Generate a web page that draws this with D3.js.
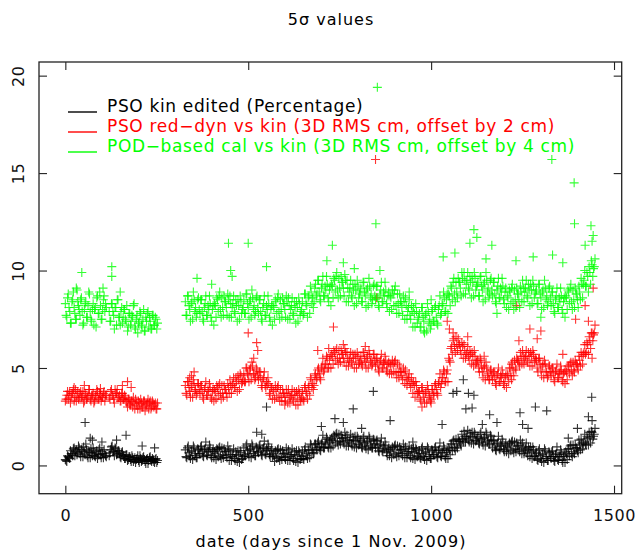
<!DOCTYPE html>
<html>
<head>
<meta charset="utf-8">
<script src="https://cdn.jsdelivr.net/npm/d3@7"></script>
<style>
  body { margin: 0; background: #fff; }
  text { font-family: "DejaVu Sans", sans-serif; }
</style>
</head>
<body>
<div id="chart"></div>
<script>
// ---- data (two interleaved 4-day samplings) ----
const daysA  = d3.range(0, 253, 4).filter(d => d !== 116);          // first campaign
const daysA2 = d3.range(2, 251, 4).filter(d => d !== 114 && d !== 118);
const daysB  = d3.range(328, 1449, 4);                               // second campaign
const daysB2 = d3.range(330, 1447, 4);

const xTicks = [0, 500, 1000, 1500];
const yTicks = [0, 5, 10, 15, 20];

const legendLabels = [
  "PSO kin edited (Percentage)",
  "PSO red\u2212dyn vs kin (3D RMS cm, offset by 2 cm)",
  "POD\u2212based cal vs kin (3D RMS cm, offset by 4 cm)"
];

// black: PSO kin edited
const kinA = [0.3,0.2,0.45,0.35,0.6,0.5,0.9,0.7,0.55,1.0,0.6,0.8,0.45,0.7,1.1,0.5,0.75,0.4,0.65,0.9,0.5,0.6,0.35,0.8,0.55,0.7,0.4,0.6,0.45,
  0.5,0.8,1.0,0.7,0.9,0.55,0.75,0.6,0.4,0.7,0.5,0.35,0.55,0.3,0.45,0.2,0.4,0.3,0.15,0.35,0.25,0.5,0.2,0.4,0.3,0.1,0.35,0.25,0.45,0.2,0.3,0.15,0.35,0.25];
const kinA2 = [0.25,0.5,0.4,0.75,0.6,0.85,0.5,0.8,0.65,0.9,0.45,0.7,0.95,0.55,0.8,0.4,0.65,0.85,0.5,0.7,0.45,0.75,0.55,0.9,0.4,0.6,0.8,0.5,
  0.65,0.95,0.7,0.5,0.85,0.6,0.75,0.45,0.65,0.5,0.35,0.55,0.25,0.45,0.3,0.5,0.2,0.4,0.3,0.5,0.15,0.35,0.25,0.45,0.2,0.3,0.1,0.4,0.25,0.35,0.2,0.3,0.15];
const kinB = [
  0.8,0.4,1.0,0.5,0.7,0.3,0.9,0.6,0.4,0.8,
  0.6,1.0,0.5,0.8,1.2,0.5,0.7,0.9,0.4,0.8,
  0.7,0.3,0.8,0.9,0.5,0.9,0.4,0.7,0.5,1.0,
  0.25,0.55,0.45,0.85,0.25,0.55,0.75,0.15,0.65,0.35,
  0.9,0.5,1.1,0.6,0.8,0.4,1.0,0.7,0.5,0.9,
  0.65,1.05,0.55,0.85,1.25,0.55,0.75,0.95,0.45,0.85,
  0.6,0.2,0.7,0.8,0.4,0.8,0.3,0.6,0.4,0.9,
  0.25,0.55,0.45,0.85,0.25,0.55,0.75,0.15,0.65,0.35,
  0.7,0.3,0.95,0.5,0.75,0.4,1.05,0.8,0.65,1.1,
  0.8,1.25,0.8,1.1,1.55,0.9,1.1,1.35,0.9,1.3,
  1.4,1.0,1.5,1.6,1.2,1.6,1.1,1.4,1.2,1.7,
  1.0,1.3,1.2,1.6,1.0,1.3,1.5,0.9,1.4,1.1,
  1.3,0.9,1.5,1.0,1.2,0.8,1.4,1.1,0.9,1.3,
  0.9,1.3,0.75,1.05,1.4,0.7,0.85,1.05,0.5,0.9,
  0.8,0.4,0.9,1.0,0.6,1.0,0.5,0.8,0.6,1.1,
  0.4,0.7,0.6,1.0,0.4,0.7,0.9,0.3,0.8,0.5,
  0.75,0.35,0.95,0.45,0.65,0.25,0.85,0.55,0.35,0.75,
  0.55,0.95,0.45,0.75,1.15,0.45,0.65,0.85,0.35,0.75,
  0.9,0.55,1.1,1.25,0.9,1.35,0.9,1.25,1.1,1.6,
  1.2,1.5,1.4,1.8,1.2,1.5,1.7,1.1,1.6,1.3,
  1.5,1.1,1.7,1.2,1.4,1.0,1.6,1.3,1.1,1.5,
  0.9,1.3,0.8,1.1,1.5,0.8,1.0,1.2,0.7,1.1,
  1.0,0.6,1.1,1.2,0.8,1.2,0.7,1.0,0.8,1.3,
  0.6,0.9,0.75,1.15,0.5,0.8,0.95,0.35,0.8,0.5,
  0.65,0.25,0.85,0.35,0.55,0.15,0.75,0.45,0.25,0.65,
  0.35,0.75,0.25,0.55,0.95,0.25,0.45,0.65,0.15,0.55,
  0.7,0.3,0.85,1.0,0.6,1.05,0.6,0.9,0.75,1.3,
  0.8,1.15,1.1,1.6,1.05,1.4,1.7,1.15,1.7,1.5,
  1.9];
const kinB2 = [
  0.45,0.9,0.65,0.35,0.75,1.0,0.5,0.4,0.85,0.6,
  0.95,0.7,0.45,0.85,0.55,0.8,1.05,0.5,0.7,0.4,
  0.6,0.85,0.45,0.95,0.35,0.55,0.85,0.7,0.4,0.75,
  0.8,0.25,0.55,0.35,0.7,0.2,0.5,0.75,0.3,0.45,
  0.55,1.0,0.75,0.45,0.85,1.1,0.6,0.5,0.95,0.7,
  1.0,0.75,0.5,0.9,0.6,0.85,1.1,0.55,0.75,0.45,
  0.5,0.75,0.35,0.85,0.25,0.45,0.75,0.6,0.3,0.65,
  0.8,0.25,0.55,0.35,0.7,0.2,0.5,0.75,0.3,0.45,
  0.35,0.8,0.6,0.35,0.8,1.1,0.65,0.6,1.1,0.9,
  1.15,0.95,0.75,1.15,0.9,1.2,1.45,0.95,1.2,0.9,
  1.3,1.55,1.15,1.65,1.05,1.25,1.55,1.4,1.1,1.45,
  1.55,1.0,1.3,1.1,1.45,0.95,1.25,1.5,1.05,1.2,
  0.95,1.4,1.15,0.85,1.25,1.5,1.0,0.9,1.35,1.1,
  1.25,1.0,0.7,1.1,0.75,1.0,1.2,0.65,0.8,0.5,
  0.7,0.95,0.55,1.05,0.45,0.65,0.95,0.8,0.5,0.85,
  0.95,0.4,0.7,0.5,0.85,0.35,0.65,0.9,0.45,0.6,
  0.4,0.85,0.6,0.3,0.7,0.95,0.45,0.35,0.8,0.55,
  0.9,0.65,0.4,0.8,0.5,0.75,1.0,0.45,0.65,0.35,
  0.8,1.1,0.75,1.3,0.75,1.0,1.35,1.25,1.0,1.35,
  1.75,1.2,1.5,1.3,1.65,1.15,1.45,1.7,1.25,1.4,
  1.15,1.6,1.35,1.05,1.45,1.7,1.2,1.1,1.55,1.3,
  1.25,1.0,0.75,1.15,0.85,1.1,1.35,0.8,1.0,0.7,
  0.9,1.15,0.75,1.25,0.65,0.85,1.15,1.0,0.7,1.05,
  1.15,0.6,0.85,0.65,0.95,0.45,0.7,0.95,0.45,0.6,
  0.3,0.75,0.5,0.2,0.6,0.85,0.35,0.25,0.7,0.45,
  0.7,0.45,0.2,0.6,0.3,0.55,0.8,0.25,0.45,0.15,
  0.6,0.85,0.5,1.05,0.45,0.7,1.05,0.9,0.65,1.05,
  1.35,0.85,1.2,1.1,1.5,1.05,1.45,1.75,1.35,1.6];
const kinOut = [[54,2.2],[68,1.4],[74,1.3],[166,1.55],[100,1.2],[140,1.3],[210,1.0],[244,0.9],
  [523,1.7],[550,3.0],[537,1.6],[737,2.4],[787,2.9],[842,3.8],[888,2.3],[1088,4.4],[1060,3.7],
  [1070,3.8],[1102,3.7],[1117,3.6],[1095,2.9],[1112,2.95],[1160,2.6],[1243,2.7],[1285,3.0],
  [1316,2.8],[1439,3.5],[1250,2.1],[1265,1.9],[1180,2.2],[1140,2.1],[1030,2.1],[950,1.2],
  [700,2.0],[760,2.2],[810,1.9],[1430,2.5],[1440,2.3],[1400,1.9],[1375,1.4]];

// red: PSO red-dyn vs kin (+2 cm)
const redA = [3.3,3.6,3.4,3.8,3.5,3.7,3.3,3.9,3.6,3.4,3.7,3.5,3.8,3.3,3.6,3.5,3.9,3.4,3.6,3.7,3.3,3.5,3.8,3.4,3.6,3.5,3.7,3.3,3.6,
  3.5,3.8,3.6,3.4,3.9,3.7,3.5,3.6,3.3,3.7,3.4,3.5,3.2,3.4,3.1,3.3,3.0,3.2,3.4,3.1,3.3,2.9,3.2,3.0,3.3,3.1,3.2,2.9,3.3,3.0,3.2,3.1,2.9,3.2];
const redA2 = [3.4,3.8,3.6,3.2,3.7,3.9,3.5,3.3,3.8,3.5,3.8,3.5,3.2,3.7,3.4,3.6,3.9,3.3,3.6,3.2,3.6,3.9,3.4,3.7,3.3,3.5,3.8,3.6,
  3.4,3.9,3.6,3.2,3.7,3.9,3.5,3.3,3.7,3.4,3.6,3.3,3.0,3.4,3.1,3.3,3.5,2.9,3.2,2.9,3.2,3.4,3.0,3.3,2.8,3.1,3.4,3.2,2.9,3.3,3.0,3.2,2.9];
const redB = [
  4.1,3.6,4.3,3.8,4.0,3.5,4.2,3.9,3.7,4.2,
  3.7,4.1,3.5,3.9,4.3,3.6,3.8,4.0,3.4,3.9,
  3.9,3.4,4.0,4.1,3.7,4.1,3.5,3.9,3.7,4.2,
  3.7,4.1,4.1,4.5,4.0,4.3,4.6,3.9,4.6,4.3,
  4.7,4.3,5.0,4.6,4.9,4.4,5.1,4.7,4.5,4.9,
  4.4,4.8,4.1,4.4,4.8,4.0,4.1,4.2,3.6,4.0,
  3.9,3.4,3.9,4.0,3.6,3.9,3.3,3.7,3.5,3.9,
  3.2,3.6,3.5,3.9,3.3,3.6,3.8,3.1,3.7,3.4,
  3.8,3.3,4.1,3.7,4.0,3.6,4.4,4.2,4.1,4.7,
  4.5,5.0,4.5,5.0,5.5,4.9,5.2,5.5,5.0,5.6,
  5.7,5.2,5.8,5.9,5.5,5.9,5.3,5.7,5.5,6.0,
  5.1,5.5,5.4,5.8,5.2,5.5,5.7,5.0,5.6,5.3,
  5.6,5.1,5.8,5.3,5.5,5.0,5.7,5.4,5.2,5.7,
  5.1,5.5,4.9,5.3,5.7,5.0,5.2,5.4,4.8,5.3,
  5.2,4.7,5.2,5.3,4.8,5.2,4.5,4.8,4.6,5.0,
  4.2,4.5,4.4,4.7,4.0,4.2,4.3,3.5,4.1,3.7,
  3.8,3.3,4.0,3.5,3.7,3.2,3.9,3.6,3.4,3.9,
  3.7,4.2,3.7,4.2,4.7,4.2,4.5,4.8,4.3,4.9,
  5.5,5.3,6.1,6.4,6.1,6.6,5.9,6.2,5.9,6.3,
  5.5,5.9,5.7,6.1,5.4,5.7,5.8,5.1,5.6,5.3,
  5.4,4.8,5.4,4.8,5.0,4.4,5.0,4.7,4.4,4.9,
  4.4,4.8,4.2,4.6,5.0,4.3,4.5,4.7,4.1,4.6,
  4.7,4.3,5.0,5.2,4.9,5.4,4.9,5.4,5.3,5.8,
  5.2,5.6,5.5,5.9,5.3,5.6,5.8,5.1,5.7,5.4,
  5.4,4.8,5.5,4.9,5.1,4.5,5.2,4.8,4.6,5.1,
  4.6,5.0,4.4,4.8,5.2,4.5,4.7,4.9,4.3,4.8,
  4.9,4.4,5.1,5.2,4.9,5.3,4.8,5.2,5.1,5.6,
  5.1,5.6,5.7,6.2,5.8,6.2,6.6,6.0,6.8,6.7,
  7.2];
const redB2 = [
  3.7,4.3,4.0,3.5,4.1,4.4,3.8,3.6,4.2,3.9,
  4.1,3.8,3.4,4.0,3.6,3.9,4.2,3.5,3.8,3.3,
  3.8,4.1,3.6,4.2,3.4,3.7,4.1,3.9,3.5,4.0,
  4.4,3.7,4.2,4.0,4.5,3.8,4.4,4.7,4.2,4.4,
  4.3,5.0,4.7,4.3,5.0,5.3,4.7,4.4,5.0,4.6,
  4.8,4.5,4.0,4.5,4.1,4.3,4.5,3.7,4.0,3.4,
  3.8,4.1,3.5,4.1,3.3,3.5,3.9,3.7,3.3,3.7,
  3.9,3.2,3.6,3.4,3.8,3.1,3.6,3.9,3.3,3.5,
  3.4,4.0,3.8,3.4,4.1,4.5,4.0,3.9,4.6,4.4,
  4.9,4.7,4.4,5.1,4.8,5.2,5.6,5.0,5.4,5.0,
  5.6,5.9,5.4,6.0,5.2,5.5,5.9,5.7,5.3,5.8,
  5.8,5.1,5.5,5.3,5.7,5.0,5.5,5.8,5.2,5.4,
  5.2,5.8,5.5,5.0,5.6,5.9,5.3,5.1,5.7,5.4,
  5.5,5.2,4.8,5.4,5.0,5.3,5.6,4.9,5.2,4.7,
  5.1,5.4,4.8,5.4,4.5,4.8,5.1,4.8,4.4,4.8,
  4.9,4.1,4.5,4.2,4.5,3.7,4.1,4.3,3.7,3.8,
  3.4,4.0,3.7,3.2,3.8,4.1,3.5,3.3,3.9,3.6,
  4.1,3.9,3.6,4.3,4.0,4.5,4.9,4.3,4.7,4.3,
  5.4,6.0,5.7,6.5,5.8,6.2,6.5,6.2,5.7,6.1,
  6.2,5.5,5.8,5.6,5.9,5.2,5.6,5.9,5.2,5.4,
  5.0,5.5,5.1,4.5,5.1,5.3,4.6,4.4,4.9,4.6,
  4.8,4.5,4.1,4.7,4.3,4.6,4.9,4.2,4.5,4.0,
  4.6,5.0,4.6,5.3,4.6,5.0,5.5,5.4,5.1,5.6,
  5.9,5.2,5.6,5.4,5.8,5.1,5.6,5.9,5.3,5.5,
  5.0,5.5,5.2,4.6,5.2,5.4,4.8,4.5,5.1,4.8,
  5.0,4.7,4.3,4.9,4.5,4.8,5.1,4.4,4.7,4.2,
  4.8,5.1,4.7,5.3,4.6,4.9,5.4,5.2,4.9,5.4,
  5.8,5.2,5.8,5.7,6.3,5.7,6.4,6.8,6.4,6.8];
const redOut = [[24,4.0],[52,4.1],[156,4.1],[170,4.3],[180,4.0],[96,3.95],
  [345,4.6],[352,4.8],[340,4.5],[500,6.8],[523,6.3],[526,5.9],[515,5.5],[733,7.1],[720,6.0],
  [851,8.6],[848,15.7],[1044,7.4],[1050,7.0],[1060,6.8],[1234,8.2],[1421,8.2],[1443,9.1],
  [1270,7.0],[1300,6.9],[1290,6.5],[1395,7.5],[1430,7.4],[690,5.9],[760,6.2],[820,6.1],
  [1100,6.6],[1360,5.7],[1145,5.6],[600,3.1],[975,3.0],[1000,3.2],[1240,6.4],[1220,4.4],[1440,5.5]];

// green: POD-based cal vs kin (+4 cm)
const podA = [8.3,7.6,8.8,7.9,7.3,8.5,8.1,7.5,9.0,8.2,7.7,8.6,7.2,8.0,8.4,7.6,8.9,7.9,7.4,8.3,8.0,7.1,8.7,7.8,8.2,7.5,8.5,7.9,8.1,
  7.9,7.4,8.3,7.7,8.1,7.2,8.5,7.6,7.9,7.3,8.0,7.5,8.2,7.1,7.8,7.4,7.6,8.3,7.0,7.7,7.3,7.9,7.2,7.5,6.9,7.6,7.8,7.1,7.4,7.0,7.7,7.2,7.5,7.3];
const podA2 = [7.7,8.6,8.1,7.3,8.4,8.9,7.8,7.5,8.4,8.0,8.5,7.9,7.3,8.3,7.6,8.2,8.8,7.5,8.0,7.2,8.1,8.6,7.8,8.9,7.5,8.0,8.7,8.3,
  7.4,8.3,7.9,7.0,8.1,8.5,7.6,7.2,8.1,7.6,8.0,7.4,6.9,7.8,7.2,7.7,8.2,7.1,7.5,6.8,7.4,7.8,7.1,8.0,6.9,7.4,7.9,7.6,7.0,7.7,7.2,7.6,7.0];
const podB = [
  8.4,7.7,8.7,8.0,8.3,7.5,8.5,8.1,7.8,8.6,
  7.8,8.5,7.5,8.1,8.7,7.7,8.0,8.3,7.4,8.2,
  8.3,7.6,8.5,8.7,8.0,8.6,7.7,8.4,8.1,8.8,
  7.6,8.3,8.1,8.7,7.8,8.2,8.5,7.5,8.4,8.0,
  8.5,7.8,8.8,8.1,8.4,7.6,8.6,8.2,7.9,8.7,
  7.8,8.5,7.5,8.1,8.7,7.7,8.0,8.3,7.4,8.2,
  8.2,7.5,8.4,8.6,7.9,8.5,7.6,8.3,8.0,8.7,
  7.5,8.2,8.0,8.6,7.7,8.1,8.4,7.4,8.3,7.9,
  8.4,7.8,8.8,8.2,8.6,7.8,8.9,8.6,8.4,9.3,
  8.8,9.5,8.5,9.1,9.7,8.7,9.0,9.3,8.4,9.2,
  9.3,8.6,9.5,9.7,9.0,9.6,8.7,9.4,9.1,9.8,
  8.4,9.1,8.9,9.5,8.6,9.0,9.3,8.3,9.2,8.8,
  9.1,8.4,9.4,8.7,9.0,8.2,9.2,8.8,8.5,9.3,
  8.5,9.2,8.2,8.8,9.4,8.4,8.7,9.0,8.1,8.9,
  8.7,8.0,8.8,9.0,8.2,8.8,7.8,8.4,8.1,8.7,
  7.5,8.2,7.9,8.5,7.5,7.9,8.1,7.1,7.9,7.5,
  7.8,7.1,8.1,7.4,7.7,6.9,7.9,7.5,7.2,8.0,
  7.4,8.2,7.3,8.0,8.7,7.8,8.2,8.6,7.9,8.8,
  8.8,8.2,9.1,9.4,8.8,9.4,8.6,9.4,9.1,9.9,
  8.8,9.5,9.3,9.9,9.0,9.4,9.7,8.7,9.6,9.2,
  9.4,8.7,9.7,9.0,9.3,8.5,9.5,9.1,8.8,9.6,
  8.7,9.4,8.4,9.0,9.6,8.6,8.9,9.2,8.3,9.1,
  8.7,8.0,8.9,9.1,8.4,9.0,8.1,8.8,8.5,9.2,
  8.4,9.1,8.9,9.5,8.6,9.0,9.3,8.3,9.2,8.8,
  9.0,8.3,9.3,8.6,8.9,8.1,9.1,8.7,8.4,9.2,
  8.2,8.9,7.9,8.5,9.1,8.1,8.4,8.7,7.8,8.6,
  8.7,8.0,8.9,9.1,8.4,9.0,8.1,8.8,8.5,9.2,
  8.5,9.3,9.3,10.0,9.2,9.7,10.2,9.3,10.3,10.1,
  10.6];
const podB2 = [
  7.7,8.7,8.2,7.4,8.4,8.9,7.9,7.6,8.5,8.0,
  8.5,7.9,7.4,8.3,7.7,8.2,8.7,7.6,8.0,7.2,
  8.2,8.6,7.9,8.9,7.6,8.1,8.7,8.4,7.7,8.5,
  8.7,7.6,8.3,7.9,8.5,7.4,8.2,8.7,7.8,8.1,
  7.8,8.8,8.3,7.5,8.5,9.0,8.0,7.7,8.6,8.1,
  8.5,7.9,7.4,8.3,7.7,8.2,8.7,7.6,8.0,7.2,
  8.1,8.5,7.8,8.8,7.5,8.0,8.6,8.3,7.6,8.4,
  8.6,7.5,8.2,7.8,8.4,7.3,8.1,8.6,7.7,8.0,
  7.7,8.8,8.3,7.6,8.7,9.2,8.3,8.1,9.1,8.7,
  9.5,8.9,8.4,9.3,8.7,9.2,9.7,8.6,9.0,8.2,
  9.2,9.6,8.9,9.9,8.6,9.1,9.7,9.4,8.7,9.5,
  9.5,8.4,9.1,8.7,9.3,8.2,9.0,9.5,8.6,8.9,
  8.4,9.4,8.9,8.1,9.1,9.6,8.6,8.3,9.2,8.7,
  9.2,8.6,8.1,9.0,8.4,8.9,9.4,8.3,8.7,7.9,
  8.6,9.0,8.2,9.2,7.8,8.3,8.8,8.4,7.7,8.4,
  8.6,7.5,8.1,7.7,8.2,7.1,7.8,8.3,7.3,7.6,
  7.1,8.1,7.6,6.8,7.8,8.3,7.3,7.0,7.9,7.4,
  8.1,7.6,7.2,8.2,7.7,8.3,8.9,7.9,8.5,7.8,
  8.7,9.2,8.5,9.6,8.4,8.9,9.6,9.4,8.7,9.6,
  9.9,8.8,9.5,9.1,9.7,8.6,9.4,9.9,9.0,9.3,
  8.7,9.7,9.2,8.4,9.4,9.9,8.9,8.6,9.5,9.0,
  9.4,8.8,8.3,9.2,8.6,9.1,9.6,8.5,8.9,8.1,
  8.6,9.0,8.3,9.3,8.0,8.5,9.1,8.8,8.1,8.9,
  9.5,8.4,9.1,8.7,9.3,8.2,9.0,9.5,8.6,8.9,
  8.3,9.3,8.8,8.0,9.0,9.5,8.5,8.2,9.1,8.6,
  8.9,8.3,7.8,8.7,8.1,8.6,9.1,8.0,8.4,7.6,
  8.6,9.0,8.3,9.3,8.0,8.5,9.1,8.8,8.1,8.9,
  9.6,8.6,9.5,9.2,9.9,8.9,9.9,10.5,9.7,10.2];
const podOut = [[45,9.9],[127,10.2],[127,9.7],[103,9.1],[150,8.9],[30,9.1],
  [446,11.4],[500,11.4],[550,10.2],[452,10.0],[456,9.7],[715,10.5],[730,11.3],[853,19.4],[849,12.4],
  [1330,15.7],[1391,14.5],[1392,12.4],[1437,12.3],[1443,11.8],[1117,12.1],[1125,11.7],[1106,11.4],
  [1166,11.3],[1065,10.9],[1033,10.7],[1232,10.5],[1279,10.7],[1332,10.8],[1421,11.3],[1360,10.4],
  [760,10.4],[790,10.1],[360,9.6],[400,9.3],[860,10.0],[1440,11.5],[1150,10.6],[1000,8.5],[940,8.9],
  [980,6.9],[1300,7.6],[1180,7.8]];

const series = [
  {color: "#000000", pts: [].concat(d3.zip(daysA, kinA), d3.zip(daysA2, kinA2), d3.zip(daysB, kinB), d3.zip(daysB2, kinB2), kinOut)},
  {color: "#ff0000", pts: [].concat(d3.zip(daysA, redA), d3.zip(daysA2, redA2), d3.zip(daysB, redB), d3.zip(daysB2, redB2), redOut)},
  {color: "#00ff00", pts: [].concat(d3.zip(daysA, podA), d3.zip(daysA2, podA2), d3.zip(daysB, podB), d3.zip(daysB2, podB2), podOut)}
];

// ---- layout ----
const width = 638, height = 553;
const box = {left: 39, right: 621.7, top: 62, bottom: 493.7};

const svg = d3.select("#chart").append("svg")
    .attr("width", width)
    .attr("height", height);

const x = d3.scaleLinear().domain([-72, 1521]).range([box.left, box.right]);
const y = d3.scaleLinear().domain([-1.45, 20.7]).range([box.bottom, box.top]);

// points
const plus = "M-4.5,0H4.5M0,-4.5V4.5";
series.forEach(function(s) {
    svg.append("g")
        .selectAll("path")
        .data(s.pts)
        .enter().append("path")
        .attr("transform", d => `translate(${x(d[0])},${y(d[1])})`)
        .attr("d", plus)
        .attr("fill", "none")
        .attr("stroke", s.color)
        .attr("stroke-opacity", 0.8)
        .attr("stroke-width", 1.1);
});

// axes, ticks pointing inward on all four sides
function styleAxis(g) {
    g.select(".domain").remove();
    g.selectAll(".tick line").attr("stroke", "#222").attr("stroke-width", 1.1);
    g.selectAll("text").attr("font-size", 16).attr("fill", "#111")
        .style("font-family", "'DejaVu Sans', sans-serif")
        .style("letter-spacing", "0.6px");
}

svg.append("g")
    .attr("transform", `translate(0,${box.bottom})`)
    .call(d3.axisBottom(x).tickValues(xTicks).tickFormat(d3.format("d"))
        .tickSizeInner(-8).tickSizeOuter(0).tickPadding(16))
    .call(styleAxis);

svg.append("g")
    .attr("transform", `translate(0,${box.top})`)
    .call(d3.axisTop(x).tickValues(xTicks).tickSizeInner(-8).tickSizeOuter(0).tickFormat(""))
    .call(styleAxis);

svg.append("g")
    .attr("transform", `translate(${box.left},0)`)
    .call(d3.axisLeft(y).tickValues(yTicks).tickSizeInner(-8).tickSizeOuter(0))
    .call(styleAxis)
    .call(g => g.selectAll("text")
        .attr("x", null).attr("dy", null)
        .attr("text-anchor", "middle")
        .attr("transform", "translate(-15,0) rotate(-90)"));

svg.append("g")
    .attr("transform", `translate(${box.right},0)`)
    .call(d3.axisRight(y).tickValues(yTicks).tickSizeInner(-8).tickSizeOuter(0).tickFormat(""))
    .call(styleAxis);

svg.append("rect")
    .attr("x", box.left).attr("y", box.top)
    .attr("width", box.right - box.left).attr("height", box.bottom - box.top)
    .attr("fill", "none").attr("stroke", "#222").attr("stroke-width", 1.3);

// legend
const legend = svg.append("g");
legendLabels.forEach(function(t, i) {
    const yy = 112 + i * 20;
    const c = series[i].color;
    legend.append("line")
        .attr("x1", 68).attr("x2", 97).attr("y1", yy).attr("y2", yy)
        .attr("stroke", c).attr("stroke-width", 1.4);
    legend.append("text")
        .attr("x", 107).attr("y", yy)
        .attr("font-size", 17)
        .attr("letter-spacing", "0.65px")
        .attr("fill", c)
        .text(t);
});

// titles
svg.append("text")
    .attr("x", 331).attr("y", 25)
    .attr("text-anchor", "middle")
    .attr("font-size", 16)
    .attr("letter-spacing", "1px")
    .text("5\u03c3 values");

svg.append("text")
    .attr("x", 331).attr("y", 547)
    .attr("text-anchor", "middle")
    .attr("font-size", 16)
    .attr("letter-spacing", "1.1px")
    .text("date (days since 1 Nov. 2009)");
</script>
</body>
</html>
